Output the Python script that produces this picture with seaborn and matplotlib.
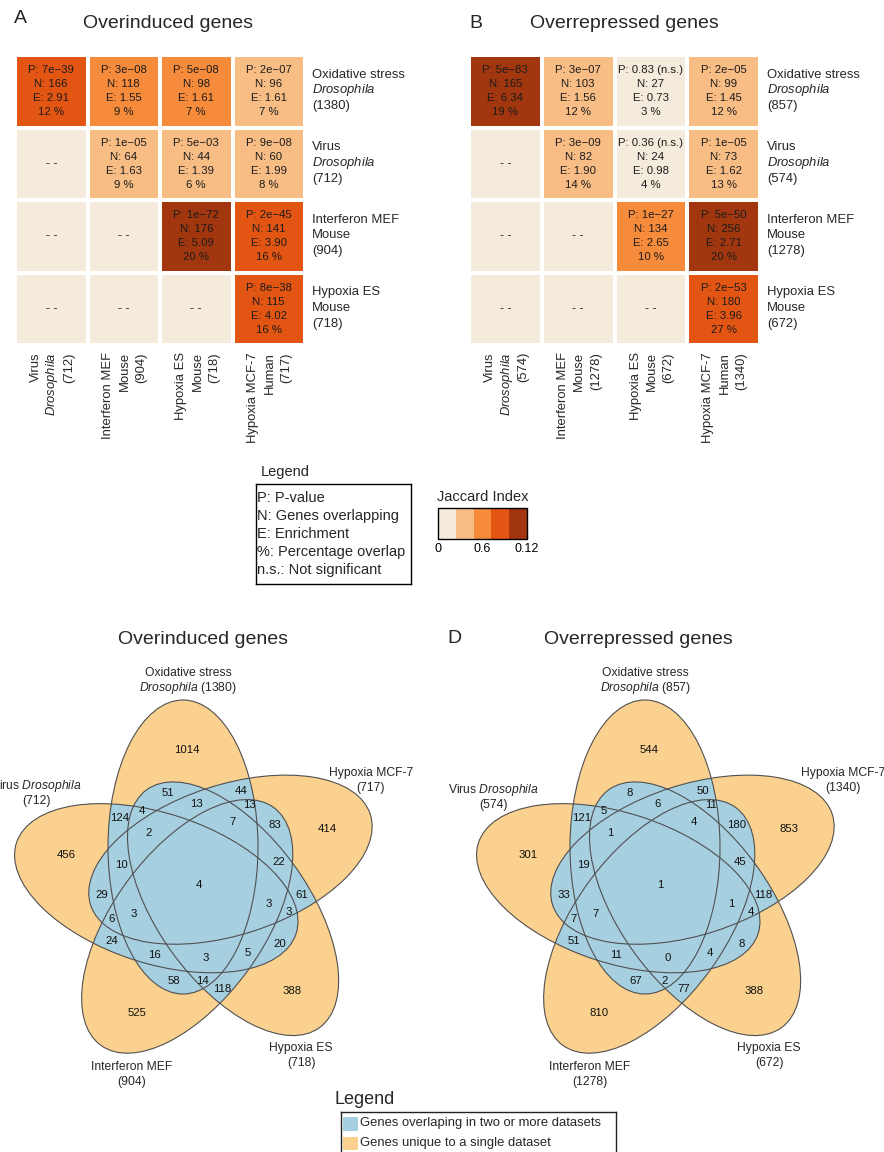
import numpy as np
import pandas as pd
import matplotlib
matplotlib.use("Agg")
import matplotlib.pyplot as plt
import seaborn as sns
from matplotlib.colors import ListedColormap, BoundaryNorm
from matplotlib.patches import Ellipse, Rectangle
from matplotlib.ticker import FixedLocator
from matplotlib.transforms import ScaledTranslation, blended_transform_factory

sns.set_style("white")
plt.rcParams["font.family"] = ["Liberation Sans", "DejaVu Sans"]
plt.rcParams["mathtext.fontset"] = "custom"
plt.rcParams["mathtext.rm"] = "Liberation Sans"
plt.rcParams["mathtext.it"] = "Liberation Sans:italic"

# ---------------------------------------------------------------- data
datasets = ["Oxidative stress", "Virus", "Interferon MEF", "Hypoxia ES", "Hypoxia MCF-7"]
species = ["Drosophila", "Drosophila", "Mouse", "Mouse", "Human"]
sizes_up = [1380, 712, 904, 718, 717]
sizes_down = [857, 574, 1278, 672, 1340]

nan = np.nan
# pairwise tables: rows = datasets[0..3], columns = datasets[1..4]
pval_up = np.array([[7e-39, 3e-08, 5e-08, 2e-07],
                    [nan, 1e-05, 5e-03, 9e-08],
                    [nan, nan, 1e-72, 2e-45],
                    [nan, nan, nan, 8e-38]])
n_up = np.array([[166, 118, 98, 96],
                 [nan, 64, 44, 60],
                 [nan, nan, 176, 141],
                 [nan, nan, nan, 115]])
enrich_up = np.array([[2.91, 1.55, 1.61, 1.61],
                      [nan, 1.63, 1.39, 1.99],
                      [nan, nan, 5.09, 3.90],
                      [nan, nan, nan, 4.02]])
pct_up = np.array([[12, 9, 7, 7],
                   [nan, 9, 6, 8],
                   [nan, nan, 20, 16],
                   [nan, nan, nan, 16]])
jaccard_up = np.array([[0.086, 0.054, 0.049, 0.047],
                       [nan, 0.041, 0.032, 0.044],
                       [nan, nan, 0.115, 0.095],
                       [nan, nan, nan, 0.087]])

pval_down = np.array([[5e-83, 3e-07, 0.83, 2e-05],
                      [nan, 3e-09, 0.36, 1e-05],
                      [nan, nan, 1e-27, 5e-50],
                      [nan, nan, nan, 2e-53]])
n_down = np.array([[165, 103, 27, 99],
                   [nan, 82, 24, 73],
                   [nan, nan, 134, 256],
                   [nan, nan, nan, 180]])
enrich_down = np.array([[6.34, 1.56, 0.73, 1.45],
                        [nan, 1.90, 0.98, 1.62],
                        [nan, nan, 2.65, 2.71],
                        [nan, nan, nan, 3.96]])
pct_down = np.array([[19, 12, 3, 12],
                     [nan, 14, 4, 13],
                     [nan, nan, 10, 20],
                     [nan, nan, nan, 27]])
jaccard_down = np.array([[0.118, 0.045, 0.018, 0.047],
                         [nan, 0.046, 0.020, 0.040],
                         [nan, nan, 0.070, 0.108],
                         [nan, nan, nan, 0.094]])

# five-way Venn region counts (same region order for both panels)
venn_up = [1014, 456, 414, 51, 44, 13, 13, 124, 4, 2, 7, 83, 10, 22, 4, 29,
           61, 3, 3, 6, 3, 24, 20, 16, 3, 5, 58, 14, 118, 388, 525]
venn_down = [544, 301, 853, 8, 50, 6, 11, 121, 5, 1, 4, 180, 19, 45, 1, 33,
             118, 1, 4, 7, 7, 51, 8, 11, 0, 4, 67, 2, 77, 388, 810]

jaccard_ticks = [0, 0.06, 0.12]
jaccard_ticklabels = ["0", "0.6", "0.12"]
legend_lines = ["P: P-value", "N: Genes overlapping", "E: Enrichment",
                "%: Percentage overlap", "n.s.: Not significant"]
venn_legend = ["Genes overlaping in two or more datasets",
               "Genes unique to a single dataset"]

# ---------------------------------------------------------------- styling
STEP_COLORS = ["#f5ebdd", "#f8bd85", "#f68b3c", "#e35512", "#a2360e"]
VENN_BLUE = "#a6cfe0"
VENN_ORANGE = "#fad18f"
EDGE = "#505050"

W, H = 884, 1152
fig = plt.figure(figsize=(W / 100, H / 100), dpi=100)


def fx(x):
    return x / W


def fy(y):
    return 1 - y / H


def px_axes(x0, y0, x1, y1):
    """Axes from a pixel box given with a top-left origin."""
    return fig.add_axes([x0 / W, 1 - y1 / H, (x1 - x0) / W, (y1 - y0) / H])


def italic(s):
    return r"$\mathit{" + s + "}$"


def species_txt(i):
    return italic(species[i]) if species[i] == "Drosophila" else species[i]


def axis_lines(i, sizes):
    return [datasets[i], species_txt(i), f"({sizes[i]})"]


def stacked_text(ax, x, y, lines, pitch, fontsize, transform, ox=0.0, oy=0.0,
                 rotation=0, ha="center", **kw):
    """Lines with a fixed pitch (pixels) whose block is centred on (x, y)."""
    em = fontsize * 100 / 72
    n = len(lines)
    for k, line in enumerate(lines):
        centre = (k - (n - 1) / 2) * pitch
        if rotation == 0:
            dx, dy = ox, oy - (centre + 0.36 * em)
        else:  # vertical text: lines run left to right
            dx, dy = ox + centre + 0.36 * em, oy
        tr = transform + ScaledTranslation(dx / 100, dy / 100, fig.dpi_scale_trans)
        ax.text(x, y, line, transform=tr, rotation=rotation, rotation_mode="anchor",
                ha=ha, va="baseline", fontsize=fontsize, **kw)


def fmt_p(p):
    if p >= 0.05:
        return f"{p:.2f} (n.s.)"
    return f"{p:.0e}".replace("-", "\u2212")


jac_cmap = ListedColormap(STEP_COLORS)
jac_norm = BoundaryNorm(np.linspace(0, 0.12, 6), jac_cmap.N)


def overlap_heatmap(ax, jac, pv, nn, ee, pc, sizes, cax=None):
    rows = [datasets[i] for i in range(4)]
    cols = [datasets[i] for i in range(1, 5)]
    df = pd.DataFrame(jac, index=rows, columns=cols)
    annot = np.full(jac.shape, "", dtype=object)
    for i in range(4):
        for j in range(4):
            if not np.isnan(jac[i, j]):
                annot[i, j] = (f"P: {fmt_p(pv[i, j])}\nN: {int(nn[i, j])}\n"
                               f"E: {ee[i, j]:.2f}\n{int(pc[i, j])} %")
    ax.set_facecolor(STEP_COLORS[0])
    sns.heatmap(df, ax=ax, cmap=jac_cmap, norm=jac_norm, annot=annot, fmt="",
                annot_kws=dict(fontsize=8.2, color="#1c1c1c", linespacing=1.48),
                linewidths=1.5, linecolor="white",
                cbar=cax is not None, cbar_ax=cax,
                cbar_kws=dict(orientation="horizontal", ticks=jaccard_ticks)
                if cax is not None else None)
    # pairs that are not tested
    for i in range(4):
        for j in range(4):
            if np.isnan(jac[i, j]):
                ax.text(j + 0.5, i + 0.5, "- -", ha="center", va="center",
                        fontsize=9, color="#333333")
    for k in range(1, 4):
        ax.axhline(k, color="white", lw=1.5, zorder=3)
        ax.axvline(k, color="white", lw=1.5, zorder=3)
    ax.set_xticks([])
    ax.set_yticks([])
    ax.set_xlabel("")
    ax.set_ylabel("")
    # dataset names: rows on the right, columns vertical underneath
    row_tr = blended_transform_factory(ax.transAxes, ax.transData)
    for i in range(4):
        stacked_text(ax, 1.0, i + 0.5, axis_lines(i, sizes), 15.7, 9.4, row_tr,
                     ox=7, oy=2.5, ha="left")
    col_tr = blended_transform_factory(ax.transData, ax.transAxes)
    for j in range(4):
        stacked_text(ax, j + 0.5, 0.0, axis_lines(j + 1, sizes), 16.5, 9.4, col_tr,
                     ox=-0.5, oy=-7, rotation=90, ha="right")


# ---------------------------------------------------------------- heatmaps
axA = px_axes(15, 55, 305, 345)
axB = px_axes(469, 55, 760, 345)
cax = px_axes(438, 508, 527, 539)
overlap_heatmap(axA, jaccard_up, pval_up, n_up, enrich_up, pct_up, sizes_up, cax=cax)
overlap_heatmap(axB, jaccard_down, pval_down, n_down, enrich_down, pct_down, sizes_down)

cb = axA.collections[0].colorbar
cb.set_ticks(jaccard_ticks, labels=jaccard_ticklabels)
cb.ax.xaxis.set_minor_locator(FixedLocator(np.arange(0, 0.1201, 0.02)))
cb.outline.set_linewidth(1.0)
cb.outline.set_edgecolor("black")
cb.ax.tick_params(which="both", direction="in", length=3.5, width=0.8,
                  colors="black", labelsize=9, pad=3, bottom=True)

fig.text(fx(482.8), fy(496.7), "Jaccard Index", ha="center", va="center", fontsize=10.5)

# text legend for the cell annotations
fig.text(fx(260.7), fy(472.3), "Legend", ha="left", va="center", fontsize=10.5)
axL = px_axes(256, 484, 411, 584)
axL.set_xticks([])
axL.set_yticks([])
for s in axL.spines.values():
    s.set_color("black")
    s.set_linewidth(1.0)
axL.text(0.008, 0.5, "\n".join(legend_lines), transform=axL.transAxes,
         ha="left", va="center", fontsize=10.5, linespacing=1.345)

# ---------------------------------------------------------------- Venn diagrams
ELL_A, ELL_B = 75.0, 147.0
ELL_C0 = np.array([-15.0, 39.0])
VENN_ORDER = [0, 4, 3, 2, 1]  # dataset drawn by each rotated ellipse

REGION_XY = [
    (-11, 136.3), (-131.7, 31.5), (129.3, 57), (-30.5, 93), (43, 94.8),
    (-2, 82), (51.5, 81.3), (-78.2, 68), (-56.2, 74.5), (-49.5, 53.5),
    (34.3, 64), (77, 60.8), (-76.2, 21.3), (80.5, 24), (0.5, 1),
    (-96, -8.5), (103.7, -8.7), (70.8, -17.7), (90.8, -25.7), (-86.8, -33.2),
    (-64.5, -28.2), (-86, -55), (81.5, -58.2), (-44, -68.5), (7.7, -72),
    (49.8, -66.5), (-24, -95.3), (4.7, -94.5), (23.8, -103.3), (94.3, -104.7),
    (-61.2, -127.3),
]


def ellipse_geometry():
    out = []
    for k in range(5):
        t = np.deg2rad(-72 * k)
        rot = np.array([[np.cos(t), -np.sin(t)], [np.sin(t), np.cos(t)]])
        out.append((rot @ ELL_C0, 90 - 72 * k))
    return out


def cat_lines(d, sizes):
    if d == 0:
        return [datasets[d], f"{species_txt(d)} ({sizes[d]})"]
    if d == 1:
        return [f"{datasets[d]} {species_txt(d)}", f"({sizes[d]})"]
    return [datasets[d], f"({sizes[d]})"]


def venn5(ax, counts, sizes, cat_xy):
    geo = ellipse_geometry()

    def shape(k, **kw):
        c, ang = geo[k]
        return Ellipse(c, 2 * ELL_B, 2 * ELL_A, angle=ang, **kw)

    for k in range(5):
        ax.add_patch(shape(k, facecolor=VENN_ORANGE, edgecolor="none", zorder=1))
    for i in range(5):
        clip = shape(i, transform=ax.transData)
        for j in range(i + 1, 5):
            p = shape(j, facecolor=VENN_BLUE, edgecolor="none", zorder=2)
            ax.add_patch(p)
            p.set_clip_path(clip)
    for k in range(5):
        ax.add_patch(shape(k, facecolor="none", edgecolor=EDGE, lw=0.8, zorder=3))
    for (x, y), c in zip(REGION_XY, counts):
        ax.text(x, y, str(c), ha="center", va="center", fontsize=8.2,
                color="#111111", zorder=4)
    for k in range(5):
        d = VENN_ORDER[k]
        x, y = cat_xy[d]
        stacked_text(ax, x, y, cat_lines(d, sizes), 15.0, 8.7, ax.transData, zorder=4)
    ax.axis("off")


cat_xy_up = {0: (-9.7, 206.8), 4: (172.7, 106.5), 1: (-161.3, 93.5),
             2: (-66.3, -187.3), 3: (103, -167.8)}
cat_xy_down = {0: (-15, 206.8), 4: (182.7, 106.5), 1: (-166.5, 90),
               2: (-70.5, -187), 3: (109, -167.8)}

axC = px_axes(0, 650, 430, 1095)
axC.set_xlim(0 - 198, 430 - 198)
axC.set_ylim(886 - 1095, 886 - 650)
venn5(axC, venn_up, sizes_up, cat_xy_up)

axD = px_axes(440, 650, 884, 1095)
axD.set_xlim(440 - 660, 884 - 660)
axD.set_ylim(886 - 1095, 886 - 650)
venn5(axD, venn_down, sizes_down, cat_xy_down)

# Venn colour legend
fig.text(fx(335), fy(1100), "Legend", ha="left", va="center", fontsize=13)
axV = px_axes(341, 1112, 616, 1165)
axV.set_xlim(0, 275)
axV.set_ylim(53, 0)
axV.set_xticks([])
axV.set_yticks([])
for s in axV.spines.values():
    s.set_color("#222222")
    s.set_linewidth(1.0)
for (y0, y_txt), col, txt in zip([(5.3, 10.7), (24.7, 31.3)], [VENN_BLUE, VENN_ORANGE], venn_legend):
    axV.add_patch(Rectangle((1.7, y0), 15, 13.4, facecolor=col, edgecolor="none"))
    axV.text(19, y_txt, txt, ha="left", va="center", fontsize=9.4)

# ---------------------------------------------------------------- titles
fig.text(fx(20.7), fy(18.3), "A", ha="center", va="center", fontsize=14)
fig.text(fx(168.3), fy(24), "Overinduced genes", ha="center", va="center", fontsize=14)
fig.text(fx(476), fy(23.3), "B", ha="center", va="center", fontsize=14)
fig.text(fx(624.2), fy(24), "Overrepressed genes", ha="center", va="center", fontsize=14)
fig.text(fx(202.8), fy(640), "Overinduced genes", ha="center", va="center", fontsize=14)
fig.text(fx(454.2), fy(638.8), "D", ha="center", va="center", fontsize=14)
fig.text(fx(638.8), fy(640), "Overrepressed genes", ha="center", va="center", fontsize=14)

fig.savefig("out.png", dpi=100)
